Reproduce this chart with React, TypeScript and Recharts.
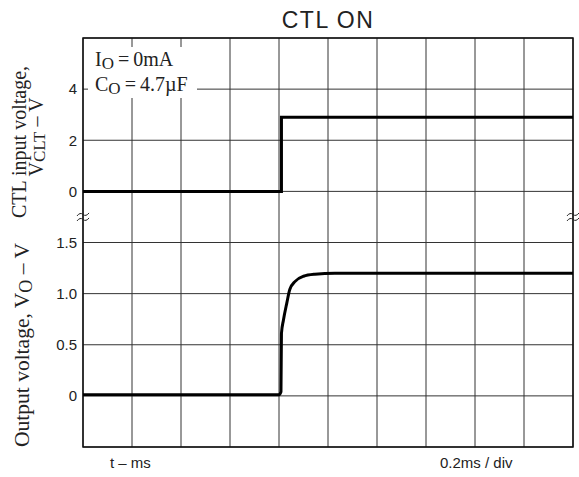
import React from "react";
import {
  LineChart,
  Line,
  XAxis,
  YAxis,
  CartesianGrid,
  ReferenceArea,
  ReferenceLine,
} from "recharts";

const W = 579;
const H = 477;

// time in divisions (0.2 ms/div)
const ctlTime = [0, 4.05, 4.05, 10];
const ctlVolt = [0, 0, 2.9, 2.9];

const voTime = [0, 4.0, 4.04, 4.05, 4.09, 4.16, 4.22, 4.33, 4.5, 4.73, 5.14, 10];
const voVolt = [0.01, 0.01, 0.04, 0.61, 0.74, 0.91, 1.04, 1.12, 1.17, 1.19, 1.2, 1.2];

const xTicks = [0, 1, 2, 3, 4, 5, 6, 7, 8, 9, 10];
const yTicks = [0, 1, 2, 3, 4, 5, 6, 7, 8];
const yTickLabels = ["", "0", "0.5", "1.0", "1.5", "0", "2", "4", ""];

// two panels share one grid: Vo (0.5 V/div, 0 at div 1), CTL (2 V/div, 0 at div 5)
const ctlData = ctlTime.map((t, i) => ({ t, y: 5 + ctlVolt[i] / 2 }));
const voData = voTime.map((t, i) => ({ t, y: 1 + voVolt[i] * 2 }));

const sans = "'Liberation Sans', Arial, sans-serif";
const serif = "'Liberation Serif', 'Times New Roman', serif";

const Breaks = (props: any) => {
  const vb = props.viewBox || {};
  const y = vb.y ?? 0;
  const xl = vb.x ?? 0;
  const xr = xl + (vb.width ?? 0);
  const tilde = (cx: number, cy: number) =>
    `M${cx - 6} ${cy + 1.5} q3 -4 6 -1.5 t6 -1.5`;
  return (
    <g stroke="#222" strokeWidth={1} fill="none">
      <path d={tilde(xl, y - 2.5)} />
      <path d={tilde(xl, y + 2.5)} />
      <path d={tilde(xr, y - 2.5)} />
      <path d={tilde(xr, y + 2.5)} />
    </g>
  );
};

export default function App() {
  return (
    <div style={{ position: "absolute", left: 0, top: 0, width: W, height: H, background: "#fff" }}>
      <LineChart
        width={W}
        height={H}
        margin={{ top: 38, right: 6, bottom: 0, left: 23 }}
      >
        <CartesianGrid stroke="#333" strokeWidth={1} />
        <XAxis
          type="number"
          dataKey="t"
          domain={[0, 10]}
          ticks={xTicks}
          interval={0}
          tickFormatter={() => ""}
          tickLine={false}
          axisLine={false}
          height={30}
          allowDuplicatedCategory={false}
        />
        <YAxis
          type="number"
          domain={[0, 8]}
          ticks={yTicks}
          interval={0}
          tickFormatter={(v: number) => yTickLabels[v] ?? ""}
          tick={{ fontSize: 15, fill: "#222", fontFamily: sans }}
          tickLine={false}
          tickSize={0}
          tickMargin={6}
          axisLine={false}
          width={60}
        />
        <ReferenceArea x1={0} x2={10} y1={0} y2={8} fill="none" stroke="#111" strokeWidth={1.5} />
        <ReferenceLine y={4.5} stroke="none" label={(p: any) => <Breaks {...p} />} />
        <Line
          data={ctlData}
          dataKey="y"
          type="linear"
          stroke="#000"
          strokeWidth={3}
          dot={false}
          isAnimationActive={false}
        />
        <Line
          data={voData}
          dataKey="y"
          type="monotone"
          stroke="#000"
          strokeWidth={3}
          dot={false}
          isAnimationActive={false}
        />
      </LineChart>
      <svg
        width={W}
        height={H}
        style={{ position: "absolute", left: 0, top: 0, pointerEvents: "none" }}
      >
        <text x={328} y={28} textAnchor="middle" fontFamily={sans} fontSize={23} letterSpacing={1.5} fill="#222">
          CTL ON
        </text>
        <g fontFamily={serif} fontSize={20} fill="#222">
          <text transform="translate(26,142) rotate(-90)" textAnchor="middle">
            CTL input voltage,
          </text>
          <text transform="translate(43,137) rotate(-90)" textAnchor="middle">
            V<tspan fontSize={17} dy={2}>CLT</tspan>
            <tspan dy={-2}> – V</tspan>
          </text>
          <text transform="translate(29,345) rotate(-90)" textAnchor="middle" fontSize={21.5}>
            Output voltage, V<tspan fontSize={18} dy={3}>O</tspan>
            <tspan dy={-3}> – V</tspan>
          </text>
        </g>
        <g fontFamily={serif} fontSize={20} fill="#222">
          <rect x={88} y={47} width={109} height={51} fill="#fff" />
          <text x={95} y={66}>
            I<tspan fontSize={17} dy={3}>O</tspan>
            <tspan dy={-3}>{"\u2009=\u20090mA"}</tspan>
          </text>
          <text x={95} y={91}>
            C<tspan fontSize={17} dy={3}>O</tspan>
            <tspan dy={-3}>{"\u2009=\u20094.7µF"}</tspan>
          </text>
        </g>
        <g fontFamily={sans} fontSize={15} fill="#222">
          <text x={110} y={468}>t – ms</text>
          <text x={440} y={468}>0.2ms / div</text>
        </g>
      </svg>
    </div>
  );
}
